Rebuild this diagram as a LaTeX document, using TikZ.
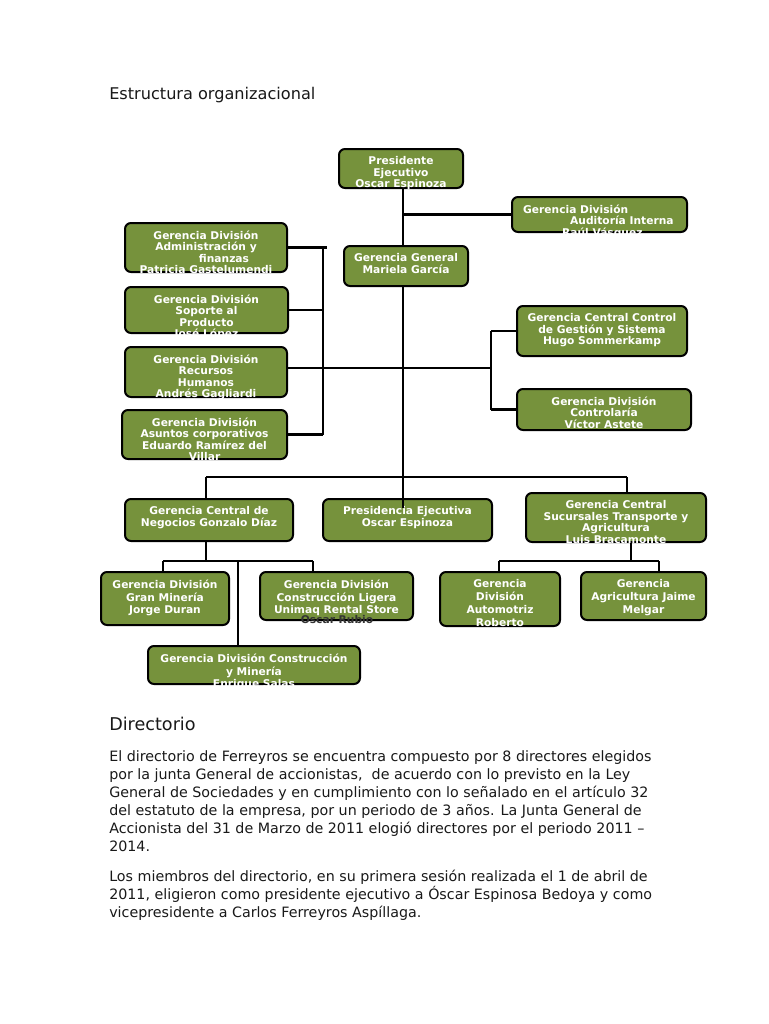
\documentclass[tikz,border=0pt]{standalone}
\usepackage{fontspec}
\setmainfont{DejaVu Sans}
\usetikzlibrary{calc}
\definecolor{olivebox}{RGB}{118,146,60}
\tikzset{
  orgbox/.style={draw=black, line width=1.5pt, fill=olivebox, rounded corners=4.5pt, inner sep=0pt},
  boxtxt/.style={text=white, font=\fontsize{8}{8.6}\selectfont\bfseries, align=center, inner sep=0pt, anchor=north},
  lowtxt/.style={font=\fontsize{8}{9.6}\selectfont\bfseries},
  conn/.style={draw=black, line width=1.9pt},
  bodytxt/.style={font=\fontsize{10.7}{13}\selectfont, anchor=base west, inner sep=0pt, text=black!90},
}
\newcommand\orgnode[7]{%
  \node[orgbox, minimum width={(#4-#2)*0.75pt}, minimum height={(#5-#3)*0.75pt}] (#1) at ({(#2+#4)/2},{(#3+#5)/2}) {};
  \node[boxtxt,#6] (#1t) at ({(#2+#4)/2},{#3+7.5}) {#7};
}
\begin{document}
\begin{tikzpicture}[x=0.75pt,y=-0.75pt]
\fill[white] (0,0) rectangle (768,1024);
\useasboundingbox (0,0) rectangle (768,1024);

\node[bodytxt, font=\fontsize{12.1}{14}\selectfont] (title) at (109,99) {Estructura organizacional};

% boxes
\orgnode{pres}{339}{149}{463}{188}{}{Presidente\\Ejecutivo\\Oscar Espinoza}
\orgnode{aud}{512}{197}{687}{232}{align=left, anchor=north west, xshift=-57.4pt}{Gerencia División\\\hspace*{35.25pt}Auditoría Interna\\\hspace*{29.25pt}Raúl Vásquez}
\orgnode{gg}{344}{246}{468}{286}{}{Gerencia General\\Mariela García}
\orgnode{adm}{125}{223}{287}{272}{}{Gerencia División\\Administración y\\\hspace*{27pt}finanzas\\Patricia Gastelumendi}
\orgnode{sop}{125}{287}{288}{333}{}{Gerencia División\\Soporte al\\Producto\\José López}
\orgnode{rh}{125}{347}{287}{397}{}{Gerencia División\\Recursos\\Humanos\\Andrés Gagliardi}
\orgnode{asu}{122}{410}{287}{459}{}{Gerencia División\\Asuntos corporativos\\Eduardo Ramírez del\\Villar}
\orgnode{cg}{517}{306}{687}{356}{}{Gerencia Central Control\\de Gestión y Sistema\\Hugo Sommerkamp}
\orgnode{ctl}{517}{389}{691}{430}{}{Gerencia División\\Controlaría\\Víctor Astete}
\orgnode{gcn}{125}{499}{293}{541}{}{Gerencia Central de\\Negocios Gonzalo Díaz}
\orgnode{pe}{323}{499}{492}{541}{}{Presidencia Ejecutiva\\Oscar Espinoza}
\orgnode{suc}{526}{493}{706}{542}{}{Gerencia Central\\Sucursales Transporte y\\Agricultura\\Luis Bracamonte}
\orgnode{gm}{101}{572}{229}{625}{lowtxt}{Gerencia División\\Gran Minería\\Jorge Duran}
\orgnode{cl}{260}{572}{413}{620}{lowtxt}{Gerencia División\\Construcción Ligera\\Unimaq Rental Store}
\node[boxtxt, text=black!80, anchor=center] (clrub) at (337,620) {Oscar Rubio};
\orgnode{cym}{148}{646}{360}{684}{lowtxt}{Gerencia División Construcción\\y Minería\\Enrique Salas}
\orgnode{aut}{440}{572}{560}{626}{lowtxt}{Gerencia\\División\\Automotriz\\Roberto}
\orgnode{agr}{581}{572}{706}{620}{lowtxt}{Gerencia\\Agricultura Jaime\\Melgar}

% coordinates
\coordinate (bus) at (403,477);
\coordinate (bl) at (206,477);
\coordinate (br) at (627,477);
\coordinate (lv) at (323,0);
\coordinate (rv) at (491,0);
\coordinate (mid) at (403,368);
\coordinate (s1) at (206,561);
\coordinate (s1l) at (163,561);
\coordinate (s1r) at (313,561);
\coordinate (s1m) at (238,561);
\coordinate (s2) at (631,561);
\coordinate (s2l) at (499,561);
\coordinate (s2r) at (659,561);

% connectors
\draw[conn] (pres.south -| bus) -- (gg.north -| bus);
\draw[conn] (gg.south -| bus) -- (bus);
\draw[conn] (bus |- aud.west) -- (aud.west);
% left group
\draw[conn] (adm.east) -- ($(adm.east -| lv)+(4,0)$);
\draw[conn] (adm.east -| lv) -- (asu.east -| lv);
\draw[conn] (sop.east) -- (sop.east -| lv);
\draw[conn] (asu.east) -- (asu.east -| lv);
\draw[conn] (rh.east |- mid) -- (rv |- mid);
% right group
\draw[conn] (rv |- cg.west) -- (rv |- ctl.west);
\draw[conn] (rv |- cg.west) -- (cg.west);
\draw[conn] (rv |- ctl.west) -- (ctl.west);
% bus
\draw[conn] (bl) -- (br);
\draw[conn] (bl) -- (bl |- gcn.north);
\draw[conn] (br) -- (br |- suc.north);
\draw[conn] (bus) -- ($(bus |- pe.north)+(0,10)$);
% negocios subtree
\draw[conn] (s1 |- gcn.south) -- (s1);
\draw[conn] (s1l) -- (s1r);
\draw[conn] (s1l) -- (s1l |- gm.north);
\draw[conn] (s1r) -- (s1r |- cl.north);
\draw[conn] (s1m) -- (s1m |- cym.north);
% sucursales subtree
\draw[conn] (s2 |- suc.south) -- (s2);
\draw[conn] (s2l) -- (s2r);
\draw[conn] (s2l) -- (s2l |- aut.north);
\draw[conn] (s2r) -- (s2r |- agr.north);

% text
\node[bodytxt, font=\fontsize{13.2}{16}\selectfont] (dir) at (109,730) {Directorio};
\node[bodytxt] (p1) at (109,761) {El directorio de Ferreyros se encuentra compuesto por 8 directores elegidos};
\node[bodytxt] (p2) at (109,779) {por la junta General de accionistas,\ \ de acuerdo con lo previsto en la Ley};
\node[bodytxt] (p3) at (109,797) {General de Sociedades y en cumplimiento con lo señalado en el artículo 32};
\node[bodytxt] (p4) at (109,815) {del estatuto de la empresa, por un periodo de 3 años. La Junta General de};
\node[bodytxt] (p5) at (109,833) {Accionista del 31 de Marzo de 2011 elogió directores por el periodo 2011 –};
\node[bodytxt] (p6) at (109,851) {2014.};
\node[bodytxt] (q1) at (109,881) {Los miembros del directorio, en su primera sesión realizada el 1 de abril de};
\node[bodytxt] (q2) at (109,899) {2011, eligieron como presidente ejecutivo a Óscar Espinosa Bedoya y como};
\node[bodytxt] (q3) at (109,917) {vicepresidente a Carlos Ferreyros Aspíllaga.};
\end{tikzpicture}
\end{document}
